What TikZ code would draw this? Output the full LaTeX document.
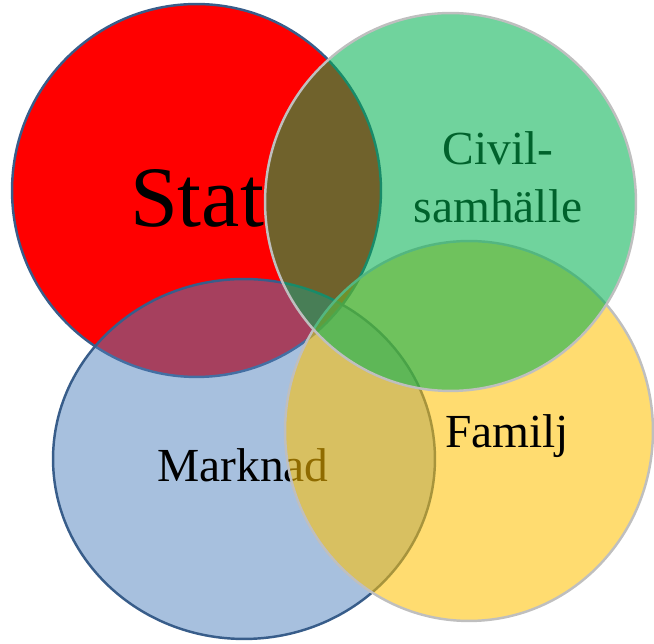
\documentclass[tikz,border=0pt]{standalone}
\usepackage{fontspec}
\setmainfont{Liberation Serif}
\usetikzlibrary{shapes.geometric}
\usepackage{xcolor}

\definecolor{statred}{HTML}{FF0000}
\definecolor{rimblue}{HTML}{385D8A}
\definecolor{markblue}{HTML}{4F81BD}
\definecolor{famgold}{HTML}{FFC000}
\definecolor{civgreen}{HTML}{00B050}
\definecolor{rimgray}{HTML}{BFBFBF}

\begin{document}
\begin{tikzpicture}
        [x=0.02cm,y=-0.02cm,auto=center,
         ring/.style={ellipse,inner sep=0pt,line width=1.4pt},
         word/.style={inner sep=0pt,font=\fontsize{27}{33}\selectfont}]

        \useasboundingbox (0,0) rectangle (654,644);

        \node[ring,draw=rimblue,fill=statred,minimum width=7.38cm,minimum height=7.46cm] (s) at (196.5,190.5) {};
        \node[word,anchor=base,font=\fontsize{49}{56}\selectfont] (st) at (197,227) {Stat};

        \node[ring,draw=rimblue,fill=markblue,fill opacity=.5,minimum width=7.64cm,minimum height=7.2cm] (m) at (244,459) {};
        \node[word,anchor=base] (mt) at (243,482) {Marknad};

        \node[ring,draw=rimgray,fill=famgold,fill opacity=.56,minimum width=7.36cm,minimum height=7.6cm] (f) at (469,431) {};
        \node[word,anchor=base] (ft) at (507,448) {Familj};

        \node[word,align=center] (ct) at (498,177) {Civil-\\samhälle};
        \node[ring,draw=rimgray,fill=civgreen,fill opacity=.56,minimum width=7.42cm,minimum height=7.56cm] (c) at (450.5,202) {};
    \end{tikzpicture}
\end{document}
